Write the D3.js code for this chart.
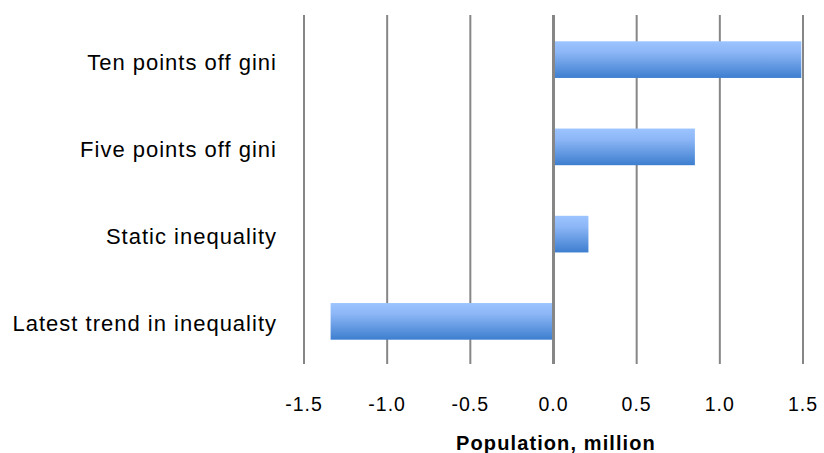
<!DOCTYPE html>
<html>
<head>
<meta charset="utf-8">
<script src="https://cdn.jsdelivr.net/npm/d3@7"></script>
<style>
  html, body { margin: 0; padding: 0; background: #fff; }
  svg { display: block; }
  text { font-family: "Liberation Sans", Arial, sans-serif; fill: #000; }
</style>
</head>
<body>
<svg id="chart" width="824" height="453"></svg>
<script>
// ---- data ----
const categories = ["Ten points off gini", "Five points off gini", "Static inequality", "Latest trend in inequality"];
const values = [1.49, 0.85, 0.21, -1.34];
const tickValues = [-1.5, -1.0, -0.5, 0.0, 0.5, 1.0, 1.5];
const axisTitle = "Population, million";

// ---- layout ----
const plot = { left: 304, right: 803, top: 15, bottom: 364 };

const svg = d3.select("#chart");

const x = d3.scaleLinear().domain([-1.5, 1.5]).range([plot.left, plot.right]);
const y = d3.scaleBand().domain(categories).range([plot.top + 1, plot.bottom + 1])
  .paddingInner(0.58).paddingOuter(0.29);

const defs = svg.append("defs");
const grad = defs.append("linearGradient").attr("id", "barGrad")
  .attr("x1", 0).attr("y1", 0).attr("x2", 0).attr("y2", 1);
grad.append("stop").attr("offset", "0%").attr("stop-color", "#9cc4ff");
grad.append("stop").attr("offset", "30%").attr("stop-color", "#8cb6f6");
grad.append("stop").attr("offset", "100%").attr("stop-color", "#3d7ecf");

// gridlines
svg.append("g").selectAll("line").data(tickValues.filter(d => d !== 0)).join("line")
  .attr("x1", d => x(d)).attr("x2", d => x(d))
  .attr("y1", plot.top).attr("y2", plot.bottom)
  .attr("stroke", "#868686").attr("stroke-width", 2);

// bars
svg.append("g").selectAll("rect").data(categories).join("rect")
  .attr("x", (d, i) => Math.min(x(0), x(values[i])))
  .attr("width", (d, i) => Math.abs(x(values[i]) - x(0)))
  .attr("y", d => y(d))
  .attr("height", y.bandwidth())
  .attr("fill", "url(#barGrad)");

// zero axis line
svg.append("line")
  .attr("x1", x(0)).attr("x2", x(0))
  .attr("y1", plot.top).attr("y2", plot.bottom)
  .attr("stroke", "#868686").attr("stroke-width", 3);

// x tick labels
const fmt = d3.format(".1f");
svg.append("g").selectAll("text").data(tickValues).join("text")
  .attr("x", d => x(d)).attr("y", 411)
  .attr("text-anchor", "middle")
  .style("font-size", "19.5px").style("letter-spacing", "1px")
  .text(d => fmt(d).replace("\u2212", "-"));

// category labels
svg.append("g").selectAll("text").data(categories).join("text")
  .attr("x", 277).attr("y", d => y(d) + y.bandwidth() / 2 + 10)
  .attr("text-anchor", "end")
  .style("font-size", "22px").style("letter-spacing", "1px")
  .text(d => d);

// axis title
svg.append("text")
  .attr("x", 556).attr("y", 450)
  .attr("text-anchor", "middle")
  .style("font-size", "20px").style("font-weight", "bold").style("letter-spacing", "1.1px")
  .text(axisTitle);
</script>
</body>
</html>
